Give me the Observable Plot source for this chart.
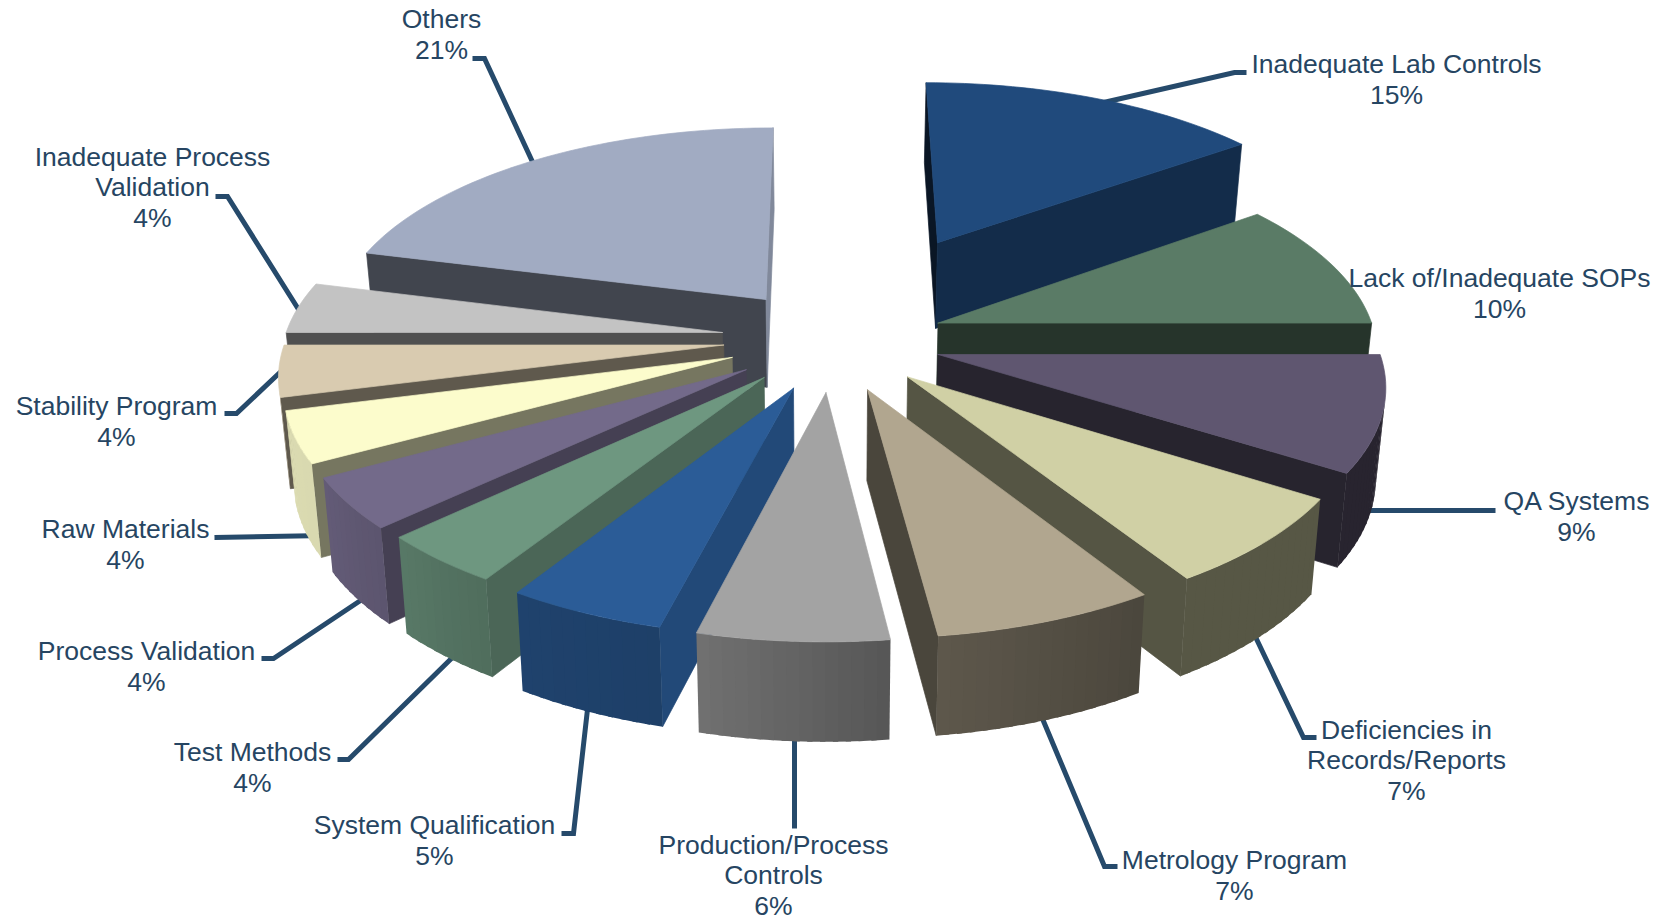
<!DOCTYPE html>
<html>
<head>
<meta charset="utf-8">
<script src="https://cdn.jsdelivr.net/npm/d3@7"></script>
<script src="https://cdn.jsdelivr.net/npm/@observablehq/plot@0.6"></script>
<style>
  html, body { margin: 0; padding: 0; background: #fff; }
  svg { display: block; }
</style>
</head>
<body>
<script>
// Share of findings by category, clockwise from twelve o'clock.
const categories = [
  "Inadequate Lab Controls", "Lack of/Inadequate SOPs", "QA Systems",
  "Deficiencies in\nRecords/Reports", "Metrology Program", "Production/Process\nControls",
  "System Qualification", "Test Methods", "Process Validation", "Raw Materials",
  "Stability Program", "Inadequate Process\nValidation", "Others"
];
const shares = [15, 10, 9, 7, 7, 6, 5, 4, 4, 4, 4, 4, 21];

// Top-face colour of each slice.
const sliceColors = [
  "#204a7c", "#5a7b66", "#5f5670", "#d0d0a5", "#b1a68f", "#a3a3a3", "#2b5c97",
  "#6e9780", "#736a8a", "#fcfccc", "#d9cbb0", "#c3c3c3", "#a1abc2"
];

// Where each slice's point sits after being pulled out of the pie, in pie radii.
const pullRight = [0.26, 0.248, 0.243, 0.172, 0.082, -0.01, -0.082, -0.148, -0.189, -0.222, -0.243, -0.248, -0.151];
const pullBack = [0.488, 0.062, -0.093, -0.2, -0.26, -0.273, -0.253, -0.203, -0.166, -0.107, -0.047, 0.015, 0.182];

// Label block centres.
const labelCenters = [
  [1396, 78], [1499, 292], [1576, 515], [1406, 759], [1234, 874], [773, 874], [434, 839],
  [252, 766], [146, 665], [125, 543], [116, 420], [152, 186], [441, 33]
];
// Leader paths: from just inside the slice, through the elbow, to the stub beside the label.
const leaderPaths = [
  [[1090, 105], [1234, 72], [1246, 72]],
  null,
  [[1350, 510], [1495, 510]],
  [[1250, 626], [1303, 737], [1316, 737]],
  [[1036, 704], [1104, 866], [1117, 866]],
  [[794, 730], [794, 828]],
  [[588, 700], [573, 833], [561, 833]],
  [[457, 652], [348, 759], [337, 759]],
  [[372, 592], [273, 658], [261, 658]],
  [[325, 535], [214, 537]],
  [[290, 362], [236, 413], [224, 413]],
  [[305, 320], [227, 196], [215, 196]],
  [[536, 170], [484, 58], [472, 58]]
];

const width = 1665, height = 917;

// Camera: a tilted plane seen from above, with a horizon far above the chart.
const view = {cx: 830, horizon: -1260, span: 1595, dist: 7.9, radius: 437, taper: 0.018};

function project(u, v, drop) {
  const s = view.dist / (view.dist + v);
  return {
    x: view.cx + view.radius * u * s * (1 - view.taper * drop),
    y: view.horizon + view.span * s + (32 + 57 * s) * drop
  };
}

// Brightness of the outer rim and of the cut faces, by compass angle in degrees.
const rimShade = d3.scaleLinear()
  .domain([0, 90, 147, 173, 194, 212, 227, 241, 270, 360])
  .range([0.5, 0.42, 0.42, 0.53, 0.69, 0.72, 0.8, 0.86, 0.88, 0.88]);
const cutShade = d3.scaleLinear()
  .domain([0, 54, 90, 148, 173, 194, 212, 227, 241, 270, 284, 360])
  .range([0.3, 0.6, 0.42, 0.41, 0.42, 0.8, 0.68, 0.6, 0.47, 0.41, 0.4, 0.8]);

function shaded(color, k) {
  const c = d3.rgb(color);
  return d3.rgb(c.r * k, c.g * k, c.b * k).formatHex();
}

const total = d3.sum(shares);
let running = 0;
const slices = shares.map((share, i) => {
  const a0 = running / total * 360;
  running += share;
  const a1 = running / total * 360;
  return {i, a0, a1, mid: (a0 + a1) / 2};
});
const rad = (deg) => deg * Math.PI / 180;

function sliceApex(sl) {
  return {u: pullRight[sl.i], v: pullBack[sl.i]};
}
function rimPoint(sl, a) {
  const o = sliceApex(sl);
  return {u: o.u + Math.sin(rad(a)), v: o.v + Math.cos(rad(a))};
}

// Walls are kept only when they turn toward the viewer.
function facesViewer(pts) {
  let area = 0;
  pts.forEach((p, j) => {
    const q = pts[(j + 1) % pts.length];
    area += p.x * q.y - q.x * p.y;
  });
  return area < 0;
}

const faces = [];
let faceId = 0;
function addFace(pts, color, edge) {
  const id = faceId++;
  [...pts, pts[0]].forEach((p) => faces.push({id, x: p.x, y: p.y, color, edge}));
}
function addWall(a, b, color, edge) {
  const pts = [project(a.u, a.v, 0), project(b.u, b.v, 0), project(b.u, b.v, 1), project(a.u, a.v, 1)];
  if (facesViewer(pts)) addFace(pts, color, edge);
}

// Far slices are painted first so nearer ones overlap them.
const paintOrder = d3.sort(slices, (s) => -Math.cos(rad(s.mid)));
for (const sl of paintOrder) {
  const color = sliceColors[sl.i];
  const apex = sliceApex(sl);
  addWall(apex, rimPoint(sl, sl.a0), shaded(color, cutShade(sl.a0)), 0.7);
  addWall(rimPoint(sl, sl.a1), apex, shaded(color, cutShade(sl.a1)), 0.7);
  const steps = Math.ceil((sl.a1 - sl.a0) / 1.5);
  const rimAngles = d3.range(steps + 1).map((k) => sl.a0 + (sl.a1 - sl.a0) * k / steps);
  // Each rim strip runs a little past the next one so no seams show between them.
  d3.pairs(rimAngles).forEach(([p, q]) =>
    addWall(rimPoint(sl, p), rimPoint(sl, Math.min(q + 0.6, sl.a1)), shaded(color, rimShade((p + q) / 2)), 0));
  addFace([apex, ...rimAngles.map((a) => rimPoint(sl, a))].map((p) => project(p.u, p.v, 0)), color, 0.7);
}

const leaders = leaderPaths.flatMap((path, id) =>
  path ? path.map(([x, y]) => ({id, x, y})) : []);

const labels = categories.map((name, i) => ({
  text: `${name}\n${shares[i]}%`,
  x: labelCenters[i][0],
  y: labelCenters[i][1]
}));

const chart = Plot.plot({
  width, height,
  margin: 0,
  style: {background: "#fff"},
  x: {domain: [0, width], range: [0, width], axis: null},
  y: {domain: [0, height], range: [0, height], axis: null},
  color: {type: "identity"},
  marks: [
    Plot.line(leaders, {
      x: "x", y: "y", z: "id", stroke: "#264a6b", strokeWidth: 5,
      strokeLinejoin: "miter", strokeMiterlimit: 4, strokeLinecap: "butt"
    }),
    Plot.line(faces, {
      x: "x", y: "y", z: "id", fill: "color", stroke: "color", strokeWidth: "edge"
    }),
    Plot.text(labels, {
      x: "x", y: "y", text: "text", textAnchor: "middle", lineHeight: 1.155,
      fontFamily: "Liberation Sans", fontSize: 26.5, fill: "#264562"
    })
  ]
});
document.body.appendChild(chart);
</script>
</body>
</html>
